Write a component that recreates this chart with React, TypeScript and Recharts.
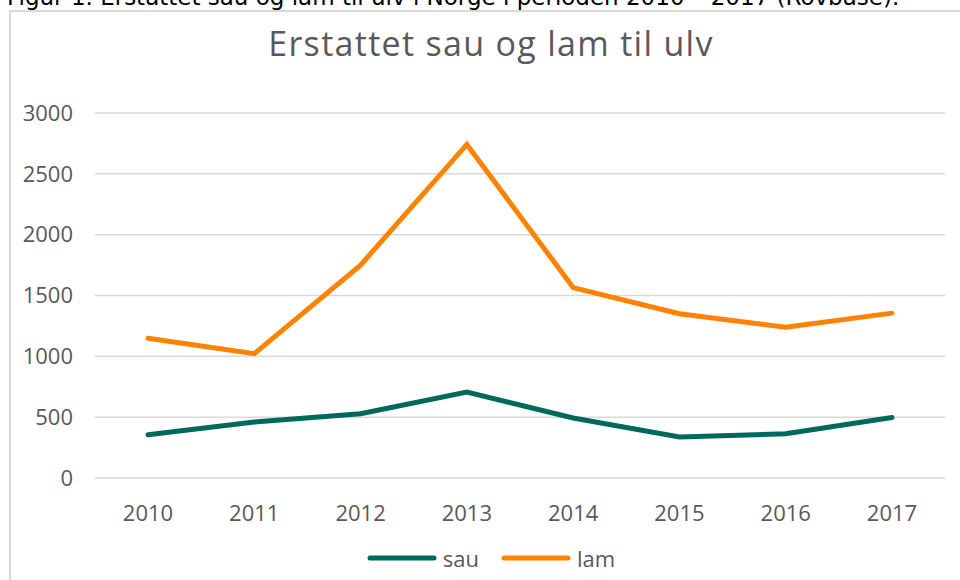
import { CartesianGrid, Line, LineChart, XAxis, YAxis } from 'recharts';

const years = ['2010', '2011', '2012', '2013', '2014', '2015', '2016', '2017'];
const sau = [355, 460, 528, 706, 493, 337, 364, 498];
const lam = [1148, 1022, 1750, 2742, 1565, 1350, 1240, 1355];
const yTicks = [0, 500, 1000, 1500, 2000, 2500, 3000];

const seriesNames = ['sau', 'lam'];
const seriesColors = ['#00695e', '#ff8200'];

const chartData = years.map((year, i) => ({ year, sau: sau[i], lam: lam[i] }));

const FONT = '"Open Sans", sans-serif';
const TEXT_COLOR = '#595959';

export default function App() {
  return (
    <div
      style={{
        position: 'absolute',
        left: 0,
        top: 0,
        width: 960,
        height: 580,
        overflow: 'hidden',
        background: '#fff',
      }}
    >
      <div
        style={{
          position: 'absolute',
          left: 7,
          top: -16,
          whiteSpace: 'nowrap',
          fontFamily: '"DejaVu Sans", sans-serif',
          fontSize: 23,
          color: '#000',
        }}
      >
        Figur 1. Erstattet sau og lam til ulv i Norge i perioden 2010 – 2017 (Rovbase).
      </div>
      <div
        style={{
          position: 'absolute',
          left: 9,
          top: 10,
          width: 1000,
          height: 1000,
          border: '2px solid #d9d9d9',
        }}
      />
      <div
        style={{
          position: 'absolute',
          left: 0,
          top: 20,
          width: 982,
          textAlign: 'center',
          fontFamily: FONT,
          fontSize: 34,
          letterSpacing: 1.3,
          color: TEXT_COLOR,
        }}
      >
        Erstattet sau og lam til ulv
      </div>
      <div style={{ position: 'absolute', left: 0, top: 0 }}>
        <LineChart
          width={960}
          height={580}
          data={chartData}
          margin={{ top: 113, right: 15, bottom: 42, left: 0 }}
        >
          <CartesianGrid vertical={false} stroke="#d9d9d9" strokeWidth={1.5} />
          <XAxis
            dataKey="year"
            axisLine={false}
            tickLine={false}
            tickSize={0}
            tickMargin={27}
            padding={{ left: 53, right: 53 }}
            tick={{ fill: TEXT_COLOR, fontSize: 22, fontFamily: FONT }}
            height={60}
          />
          <YAxis
            domain={[0, 3000]}
            ticks={yTicks}
            axisLine={false}
            tickLine={false}
            tickSize={0}
            tickMargin={22}
            width={95}
            tick={{ fill: TEXT_COLOR, fontSize: 22, fontFamily: FONT }}
          />
          {seriesNames.map((name, i) => (
            <Line
              key={name}
              dataKey={name}
              stroke={seriesColors[i]}
              strokeWidth={5}
              strokeLinecap="round"
              dot={false}
              activeDot={false}
              isAnimationActive={false}
            />
          ))}
        </LineChart>
      </div>
      <div
        style={{
          position: 'absolute',
          left: 0,
          top: 543,
          width: 982,
          display: 'flex',
          justifyContent: 'center',
          alignItems: 'center',
          gap: 22,
          fontFamily: FONT,
          fontSize: 22,
          color: TEXT_COLOR,
        }}
      >
        {seriesNames.map((name, i) => (
          <div key={name} style={{ display: 'flex', alignItems: 'center', gap: 6 }}>
            <svg width={70} height={10}>
              <line
                x1={3}
                y1={5}
                x2={67}
                y2={5}
                stroke={seriesColors[i]}
                strokeWidth={5}
                strokeLinecap="round"
              />
            </svg>
            <span>{name}</span>
          </div>
        ))}
      </div>
    </div>
  );
}
